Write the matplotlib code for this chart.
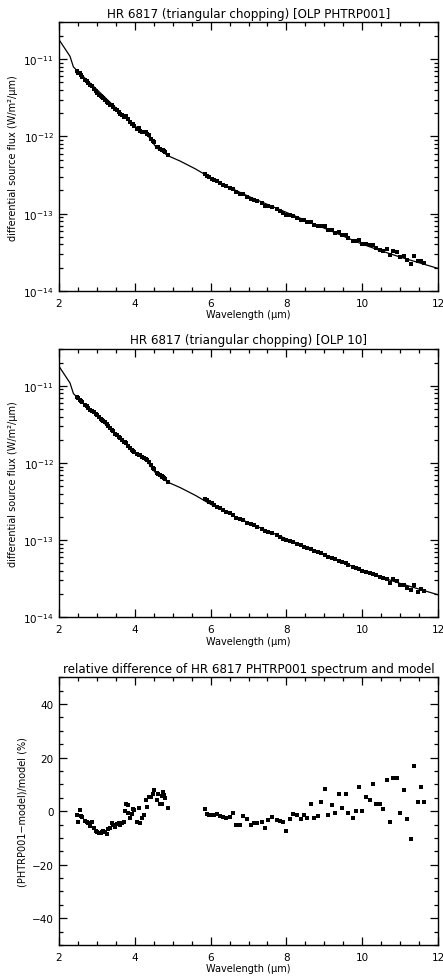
import matplotlib
matplotlib.use("Agg")
import matplotlib.pyplot as plt
from matplotlib.ticker import MultipleLocator, FixedLocator, NullFormatter, LogFormatterSciNotation

plt.rcParams['font.family'] = ['DejaVu Sans']

# ---------------- data ----------------
# model photosphere (wavelength in micron, flux in W/m2/micron)
lam_model = [2.00, 2.29, 2.38, 2.50, 3.00, 3.50, 4.00, 4.30, 4.57, 4.88, 5.20, 5.60,
             6.00, 6.50, 7.00, 7.50, 8.00, 8.50, 9.00, 9.50, 10.0, 10.5, 11.0, 11.5, 12.0]
flux_model = [1.79e-11, 1.09e-11, 7.94e-12, 6.93e-12, 4.04e-12, 2.34e-12, 1.36e-12, 1.10e-12,
              7.16e-13, 5.62e-13, 4.79e-13, 3.80e-13, 2.92e-13, 2.19e-13, 1.68e-13, 1.32e-13,
              1.04e-13, 8.22e-14, 6.50e-14, 5.13e-14, 4.04e-14, 3.31e-14, 2.75e-14, 2.32e-14, 1.96e-14]

# PHT-S short wavelength channel
lam_sw = [2.47, 2.51, 2.55, 2.58, 2.62, 2.69, 2.73, 2.77, 2.82, 2.86, 2.92, 2.97, 3.01, 3.06,
          3.10, 3.13, 3.17, 3.21, 3.26, 3.30, 3.35, 3.39, 3.43, 3.48, 3.52, 3.57, 3.61, 3.66,
          3.72, 3.74, 3.76, 3.81, 3.83, 3.87, 3.93, 3.96, 3.99, 4.05, 4.10, 4.14, 4.20, 4.24,
          4.29, 4.32, 4.37, 4.43, 4.48, 4.51, 4.58, 4.61, 4.66, 4.71, 4.73, 4.75, 4.77, 4.81, 4.88]
# PHT-S long wavelength channel
lam_lw = [5.85, 5.90, 5.96, 6.03, 6.10, 6.16, 6.25, 6.32, 6.40, 6.51, 6.60, 6.67, 6.78, 6.86,
          6.97, 7.06, 7.14, 7.23, 7.35, 7.44, 7.52, 7.63, 7.74, 7.83, 7.92, 7.99, 8.09, 8.18,
          8.29, 8.39, 8.46, 8.55, 8.64, 8.74, 8.84, 8.92, 9.01, 9.10, 9.19, 9.28, 9.38, 9.47,
          9.56, 9.63, 9.75, 9.83, 9.92, 10.00, 10.10, 10.20, 10.29, 10.37, 10.47, 10.56, 10.65,
          10.73, 10.82, 10.93, 11.00, 11.10, 11.17, 11.28, 11.37, 11.46, 11.55, 11.64]

# OLP PHTRP001 spectrum
flux1_sw = [7.06e-12, 6.58e-12, 6.59e-12, 6.24e-12, 5.96e-12, 5.43e-12, 5.19e-12, 4.94e-12,
            4.62e-12, 4.50e-12, 4.11e-12, 3.86e-12, 3.67e-12, 3.46e-12, 3.33e-12, 3.23e-12,
            3.10e-12, 2.96e-12, 2.78e-12, 2.72e-12, 2.58e-12, 2.53e-12, 2.39e-12, 2.25e-12,
            2.19e-12, 2.08e-12, 1.97e-12, 1.88e-12, 1.77e-12, 1.81e-12, 1.82e-12, 1.66e-12,
            1.68e-12, 1.53e-12, 1.46e-12, 1.44e-12, 1.38e-12, 1.26e-12, 1.28e-12, 1.17e-12,
            1.15e-12, 1.13e-12, 1.15e-12, 1.08e-12, 1.03e-12, 9.40e-13, 8.79e-13, 8.49e-13,
            7.41e-13, 7.38e-13, 6.86e-13, 6.58e-13, 6.68e-13, 6.67e-13, 6.50e-13, 6.24e-13, 5.69e-13]
flux1_lw = [3.24e-13, 3.09e-13, 2.95e-13, 2.82e-13, 2.71e-13, 2.63e-13, 2.48e-13, 2.37e-13,
            2.26e-13, 2.13e-13, 2.06e-13, 1.90e-13, 1.79e-13, 1.78e-13, 1.66e-13, 1.55e-13,
            1.50e-13, 1.44e-13, 1.36e-13, 1.27e-13, 1.26e-13, 1.21e-13, 1.14e-13, 1.08e-13,
            1.03e-13, 9.64e-14, 9.62e-14, 9.44e-14, 8.91e-14, 8.38e-14, 8.24e-14, 7.82e-14,
            7.89e-14, 7.14e-14, 6.89e-14, 6.98e-14, 7.02e-14, 6.10e-14, 6.08e-14, 5.65e-14,
            5.78e-14, 5.26e-14, 5.30e-14, 4.79e-14, 4.43e-14, 4.38e-14, 4.57e-14, 4.04e-14,
            4.08e-14, 3.89e-14, 3.95e-14, 3.58e-14, 3.44e-14, 3.26e-14, 3.50e-14, 2.92e-14,
            3.30e-14, 3.17e-14, 2.73e-14, 2.86e-14, 2.51e-14, 2.24e-14, 2.82e-14, 2.43e-14,
            2.48e-14, 2.29e-14]

# OLP 10 spectrum
flux2_sw = [7.18e-12, 6.85e-12, 6.56e-12, 6.35e-12, 6.08e-12, 5.64e-12, 5.41e-12, 5.18e-12,
            4.90e-12, 4.69e-12, 4.57e-12, 4.37e-12, 4.23e-12, 3.95e-12, 3.74e-12, 3.58e-12,
            3.47e-12, 3.37e-12, 3.22e-12, 3.05e-12, 2.86e-12, 2.70e-12, 2.56e-12, 2.39e-12,
            2.30e-12, 2.17e-12, 2.10e-12, 1.97e-12, 1.89e-12, 1.86e-12, 1.81e-12, 1.67e-12,
            1.66e-12, 1.57e-12, 1.49e-12, 1.42e-12, 1.39e-12, 1.31e-12, 1.27e-12, 1.25e-12,
            1.18e-12, 1.17e-12, 1.13e-12, 1.09e-12, 1.02e-12, 9.35e-13, 8.65e-13, 8.34e-13,
            7.45e-13, 7.26e-13, 6.98e-13, 6.79e-13, 6.62e-13, 6.52e-13, 6.41e-13, 6.15e-13, 5.75e-13]
flux2_lw = [3.45e-13, 3.30e-13, 3.14e-13, 3.00e-13, 2.85e-13, 2.72e-13, 2.58e-13, 2.45e-13,
            2.34e-13, 2.23e-13, 2.10e-13, 1.95e-13, 1.87e-13, 1.81e-13, 1.69e-13, 1.60e-13,
            1.55e-13, 1.47e-13, 1.40e-13, 1.33e-13, 1.29e-13, 1.22e-13, 1.15e-13, 1.11e-13,
            1.05e-13, 9.93e-14, 9.82e-14, 9.42e-14, 8.85e-14, 8.55e-14, 8.18e-14, 7.85e-14,
            7.60e-14, 7.18e-14, 6.93e-14, 6.75e-14, 6.47e-14, 6.12e-14, 5.94e-14, 5.62e-14,
            5.43e-14, 5.20e-14, 5.04e-14, 4.76e-14, 4.45e-14, 4.33e-14, 4.25e-14, 4.04e-14,
            3.88e-14, 3.78e-14, 3.64e-14, 3.52e-14, 3.35e-14, 3.27e-14, 3.13e-14, 2.77e-14,
            3.15e-14, 2.95e-14, 2.65e-14, 2.65e-14, 2.42e-14, 2.28e-14, 2.59e-14, 2.14e-14,
            2.36e-14, 2.21e-14]

# relative difference (PHTRP001 - model)/model in %
reldiff_sw = [-1.5, -4.0, 0.4, -1.9, -2.1, -3.6, -4.0, -4.6, -5.6, -4.0, -6.4, -7.3, -7.9, -8.3,
              -8.0, -7.8, -7.3, -7.7, -8.5, -6.7, -6.4, -4.3, -5.2, -5.8, -4.8, -4.3, -5.2, -4.6,
              -4.0, 0.0, 2.6, -0.6, 2.4, -2.7, -0.9, 0.9, 0.4, -4.0, 1.0, -4.6, -2.7, -1.5,
              4.1, 1.4, 5.3, 5.3, 6.3, 8.0, 4.3, 6.3, 2.7, 2.6, 5.6, 7.2, 6.2, 4.9, 1.1]
reldiff_lw = [0.7, -0.9, -1.5, -1.5, -1.5, -1.1, -1.9, -2.3, -2.5, -2.3, -0.6, -5.2, -5.2, -1.9,
              -3.1, -5.2, -4.3, -4.6, -4.0, -6.4, -3.3, -2.3, -3.3, -3.6, -4.0, -7.3, -3.1, -0.9,
              -1.5, -3.1, -1.5, -2.7, 2.6, -2.7, -1.9, 3.5, 8.4, -1.5, 2.3, -0.6, 6.5, 1.2,
              6.5, -0.6, -2.7, 0.0, 9.0, 0.0, 5.3, 4.3, 10.0, 2.8, 2.8, 0.7, 11.7, -4.0,
              12.5, 12.5, -0.6, 7.8, -3.1, -10.5, 16.7, 3.5, 9.0, 3.5]

# axis ticks
x_major = [2, 4, 6, 8, 10, 12]
flux_major = [1e-14, 1e-13, 1e-12, 1e-11]
flux_minor = [m * d for d in (1e-14, 1e-13, 1e-12) for m in range(2, 10)] + [2e-11, 3e-11]
diff_major = [-40, -20, 0, 20, 40]

titles = ["HR 6817 (triangular chopping) [OLP PHTRP001]",
          "HR 6817 (triangular chopping) [OLP 10]",
          "relative difference of HR 6817 PHTRP001 spectrum and model"]
xlabel = "Wavelength (\u03bcm)"
ylabel_flux = "differential source flux (W/m\u00b2/\u03bcm)"
ylabel_diff = "(PHTRP001\u2212model)/model (%)"

# ---------------- figure ----------------
W, H = 443, 979
fig = plt.figure(figsize=(W / 100, H / 100), dpi=100)

def px_axes(x0, y0, x1, y1):
    return fig.add_axes([x0 / W, 1 - y1 / H, (x1 - x0) / W, (y1 - y0) / H])

ax1 = px_axes(59, 23.3, 438, 292)
ax2 = px_axes(59, 350, 438, 618.3)
ax3 = px_axes(59, 678.3, 438, 946)

fs_title = 8.6
fs_tick = 7.5
fs_label = 7.0
ms = 2.4

def style(ax):
    ax.set_xlim(2, 12)
    ax.xaxis.set_major_locator(FixedLocator(x_major))
    ax.xaxis.set_minor_locator(MultipleLocator(0.5))
    ax.tick_params(which='both', direction='in', top=True, right=True,
                   labelsize=fs_tick, width=0.9, color='black')
    ax.tick_params(which='major', length=6)
    ax.tick_params(axis='x', which='major', pad=5)
    ax.tick_params(axis='y', which='major', pad=4)
    ax.tick_params(which='minor', length=3)
    for s in ax.spines.values():
        s.set_linewidth(1.0)
    ax.set_xlabel(xlabel, fontsize=fs_label, labelpad=1)

for ax, fsw, flw, title in [(ax1, flux1_sw, flux1_lw, titles[0]),
                            (ax2, flux2_sw, flux2_lw, titles[1])]:
    ax.set_yscale('log')
    ax.plot(lam_model, flux_model, color='black', lw=0.9)
    ax.plot(lam_sw, fsw, ls='none', marker='s', ms=ms, color='black', mew=0)
    ax.plot(lam_lw, flw, ls='none', marker='s', ms=ms, color='black', mew=0)
    ax.set_ylim(1e-14, 3e-11)
    ax.yaxis.set_major_locator(FixedLocator(flux_major))
    ax.yaxis.set_major_formatter(LogFormatterSciNotation())
    ax.yaxis.set_minor_locator(FixedLocator(flux_minor))
    ax.yaxis.set_minor_formatter(NullFormatter())
    style(ax)
    ax.set_title(title, fontsize=fs_title, pad=4)
    ax.set_ylabel(ylabel_flux, fontsize=fs_label, labelpad=4)

ax3.plot(lam_sw, reldiff_sw, ls='none', marker='s', ms=ms, color='black', mew=0)
ax3.plot(lam_lw, reldiff_lw, ls='none', marker='s', ms=ms, color='black', mew=0)
ax3.set_ylim(-50, 50)
ax3.yaxis.set_major_locator(FixedLocator(diff_major))
ax3.yaxis.set_minor_locator(MultipleLocator(5))
style(ax3)
ax3.set_title(titles[2], fontsize=fs_title, pad=4)
ax3.set_ylabel(ylabel_diff, fontsize=fs_label, labelpad=3)

fig.savefig("out.png", dpi=100)
